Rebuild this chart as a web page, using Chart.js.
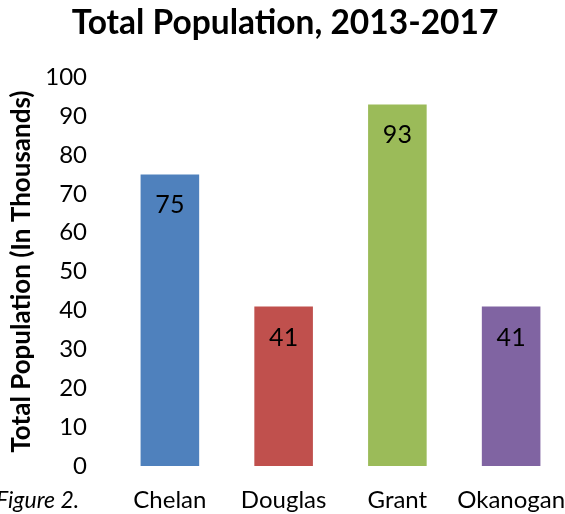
<!DOCTYPE html>
<html>
<head>
<meta charset="utf-8">
<script src="https://cdn.jsdelivr.net/npm/chart.js@4.4.1/dist/chart.umd.min.js"></script>
<style>
  html, body { margin: 0; padding: 0; background: #fff; overflow: hidden; }
  #wrap { width: 570px; height: 514px; position: relative; }
</style>
</head>
<body>
<div id="wrap"><canvas id="popChart"></canvas></div>
<script>
// --- Data ---
const counties = ['Chelan', 'Douglas', 'Grant', 'Okanogan'];
const population = [75, 41, 93, 41]; // thousands
const barColors = ['#4F81BD', '#C0504D', '#9BBB59', '#8064A2'];
const yTicks = [0, 10, 20, 30, 40, 50, 60, 70, 80, 90, 100];

const FONT = 'Lato, "Open Sans", sans-serif';

// value labels drawn just inside the top of each bar
const valueLabels = {
  id: 'valueLabels',
  afterDatasetsDraw(chart) {
    const { ctx } = chart;
    const meta = chart.getDatasetMeta(0);
    ctx.save();
    ctx.font = '25px ' + FONT;
    ctx.fillStyle = '#000';
    ctx.textAlign = 'center';
    ctx.textBaseline = 'middle';
    meta.data.forEach((bar, i) => {
      ctx.fillText(String(population[i]), bar.x, bar.y + 31);
    });
    ctx.restore();
  }
};

// caption at bottom-left, partly cut off like the source
const caption = {
  id: 'caption',
  afterDraw(chart) {
    const { ctx } = chart;
    ctx.save();
    ctx.font = 'italic 23px ' + FONT;
    ctx.fillStyle = '#000';
    ctx.textBaseline = 'alphabetic';
    ctx.fillText('Figure 2.', -4, 508);
    ctx.restore();
  }
};

new Chart(document.getElementById('popChart'), {
  type: 'bar',
  data: {
    labels: counties,
    datasets: [{
      data: population,
      backgroundColor: barColors,
      borderWidth: 0,
      categoryPercentage: 1,
      barPercentage: 0.515
    }]
  },
  options: {
    responsive: true,
    maintainAspectRatio: false,
    animation: false,
    layout: { padding: { left: 2, right: 2, top: 0, bottom: 0 } },
    plugins: {
      legend: { display: false },
      tooltip: { enabled: false },
      title: {
        display: true,
        text: 'Total Population, 2013-2017',
        color: '#000',
        font: { family: FONT, size: 33.5, weight: 'bold' },
        padding: { top: 3, bottom: 34 }
      }
    },
    scales: {
      x: {
        grid: { display: false, drawTicks: false },
        border: { display: false },
        ticks: {
          color: '#000',
          font: { family: FONT, size: 24 },
          padding: 20,
          maxRotation: 0,
          minRotation: 0,
          autoSkip: false
        },
        afterFit: s => { s.height = 48; s.paddingLeft = 0; s.paddingRight = 0; }
      },
      y: {
        min: 0,
        max: 100,
        afterBuildTicks: s => { s.ticks = yTicks.map(v => ({ value: v })); },
        grid: { display: false, drawTicks: false },
        border: { display: false },
        ticks: { color: '#000', font: { family: FONT, size: 24 }, padding: 26 },
        title: {
          display: true,
          text: 'Total Population (In Thousands)',
          color: '#000',
          font: { family: FONT, size: 26, weight: 'bold' },
          padding: { top: 4, bottom: 4 }
        },
        afterFit: s => { s.width = 111; }
      }
    }
  },
  plugins: [valueLabels, caption]
});
</script>
</body>
</html>
